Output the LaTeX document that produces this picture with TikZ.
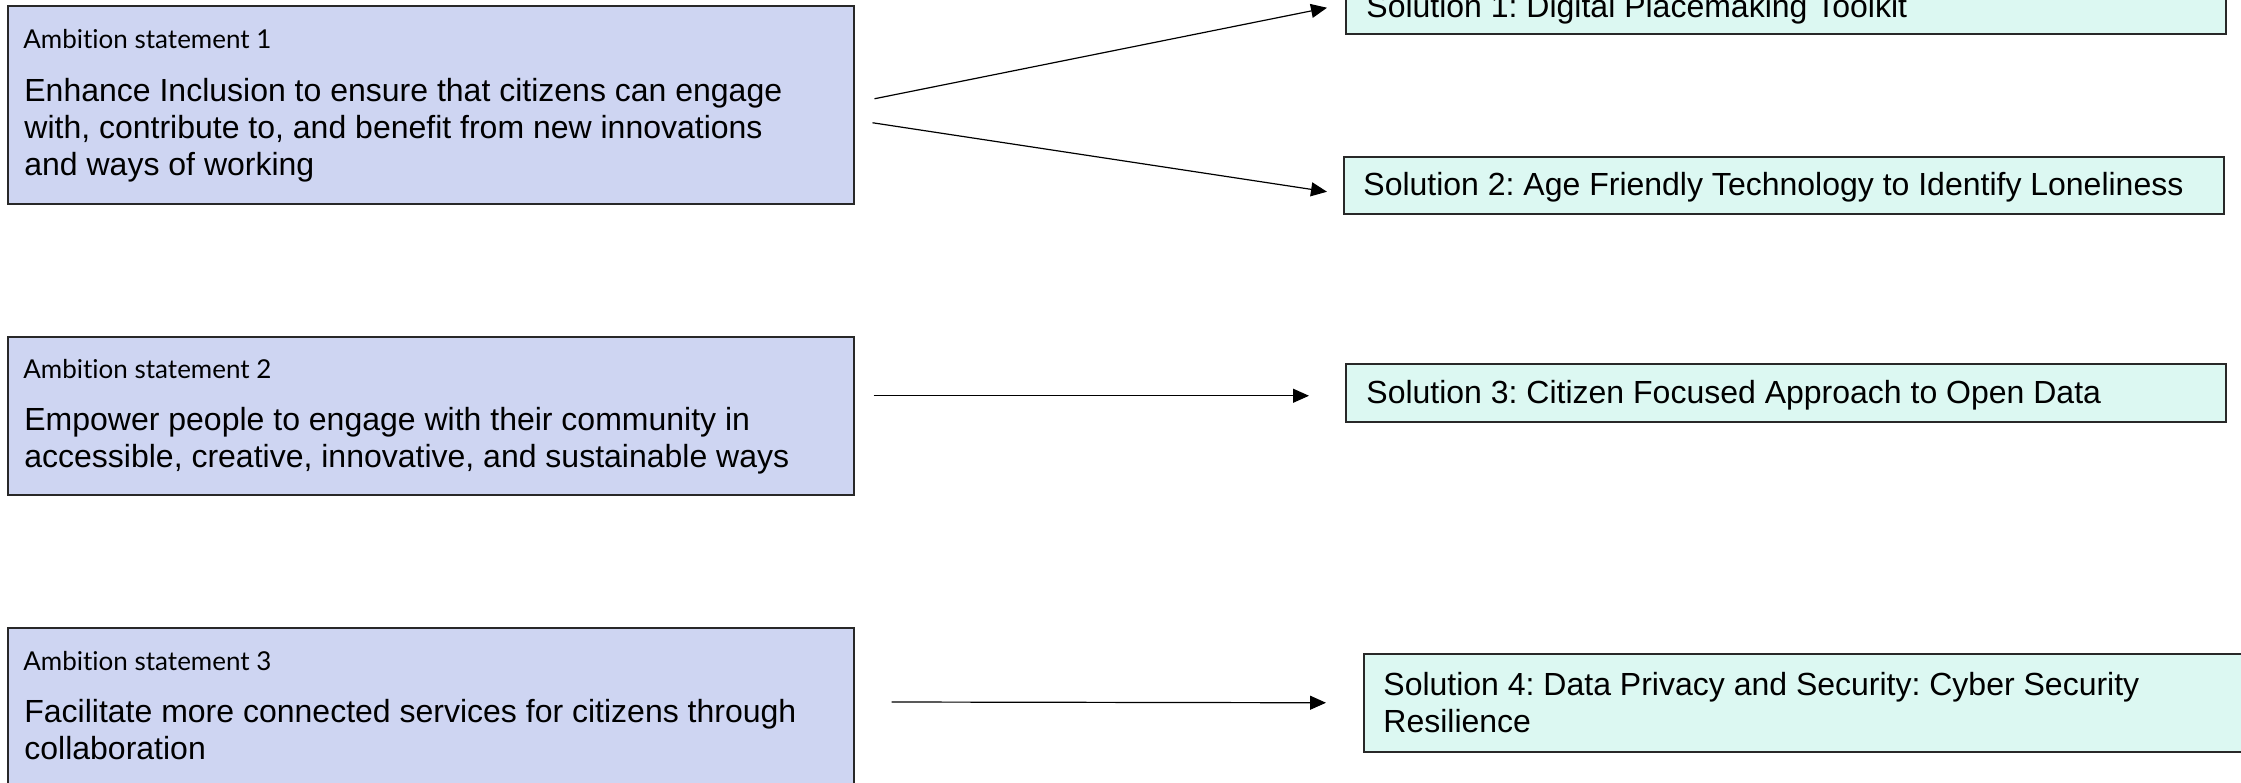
\documentclass[tikz,border=0pt]{standalone}
\usepackage{fontspec}
\setmainfont{Liberation Sans}
\newfontfamily\tagfont[Ligatures={NoCommon,NoRare}]{Lato}
\usetikzlibrary{arrows.meta}
\definecolor{ambfill}{RGB}{206,213,242}
\definecolor{solfill}{RGB}{220,248,242}
\definecolor{edgecol}{RGB}{40,40,40}
\begin{document}
\frenchspacing
\begin{tikzpicture}[x=0.5pt,y=-0.5pt,
  ambbox/.style={draw=edgecol,line width=0.75pt,fill=ambfill,rectangle,inner sep=0pt,anchor=north west},
  solbox/.style={draw=edgecol,line width=0.75pt,fill=solfill,rectangle,inner sep=0pt,anchor=north west},
  tagtext/.style={anchor=base west,inner sep=0pt,font=\tagfont\fontsize{13pt}{15pt}\selectfont},
  bodytext/.style={anchor=base west,inner sep=0pt,align=left,font=\fontsize{16pt}{18.5pt}\selectfont},
  arr/.style={line width=0.6pt,-{Triangle[length=8pt,width=7pt]}}]
\clip (0,0) rectangle (2241,782);
\fill[white] (0,0) rectangle (2241,782);
% ambition boxes
\node[ambbox,minimum width=423pt,minimum height=99pt] (a1) at (7,5) {};
\node[ambbox,minimum width=423pt,minimum height=79pt] (a2) at (7,336) {};
\node[ambbox,minimum width=423pt,minimum height=100pt] (a3) at (7,627) {};
\node[tagtext] (a1tag) at (23,48) {Ambition statement 1};
\node[bodytext] (a1body) at (24,175) {Enhance Inclusion to ensure that citizens can engage\\with, contribute to, and benefit from new innovations\\and ways of working};
\node[tagtext] (a2tag) at (23,378) {Ambition statement 2};
\node[bodytext] (a2body) at (24,467) {Empower people to engage with their community in\\accessible, creative, innovative, and sustainable ways};
\node[tagtext] (a3tag) at (23,670) {Ambition statement 3};
\node[bodytext] (a3body) at (24,759) {Facilitate more connected services for citizens through\\collaboration};
% solution boxes
\node[solbox,minimum width=440pt,minimum height=29pt] (s1) at (1345,-25) {};
\node[solbox,minimum width=440pt,minimum height=28.5pt] (s2) at (1343,156) {};
\node[solbox,minimum width=440pt,minimum height=29pt] (s3) at (1345,363) {};
\node[solbox,minimum width=460pt,minimum height=49pt] (s4) at (1363,653) {};
\node[bodytext] (s1text) at (1366,17) {Solution 1: Digital Placemaking Toolkit};
\node[bodytext] (s2text) at (1363,195) {Solution 2: Age Friendly Technology to Identify Loneliness};
\node[bodytext] (s3text) at (1366,403) {Solution 3: Citizen Focused Approach to Open Data};
\node[bodytext] (s4text) at (1383,732) {Solution 4: Data Privacy and Security: Cyber Security\\Resilience};
% connectors
\draw[arr] ([shift={(20,-6)}]a1.east) -- ([shift={(-18,3)}]s1.west);
\draw[arr] ([shift={(18,18)}]a1.east) -- ([shift={(-16,6.5)}]s2.west);
\draw[arr] ([shift={(19,-20)}]a2.east) -- ([shift={(-36,3)}]s3.west);
\draw[arr] ([shift={(37,75)}]a3.north east) -- ([shift={(-37,0)}]s4.west);
\end{tikzpicture}
\end{document}
